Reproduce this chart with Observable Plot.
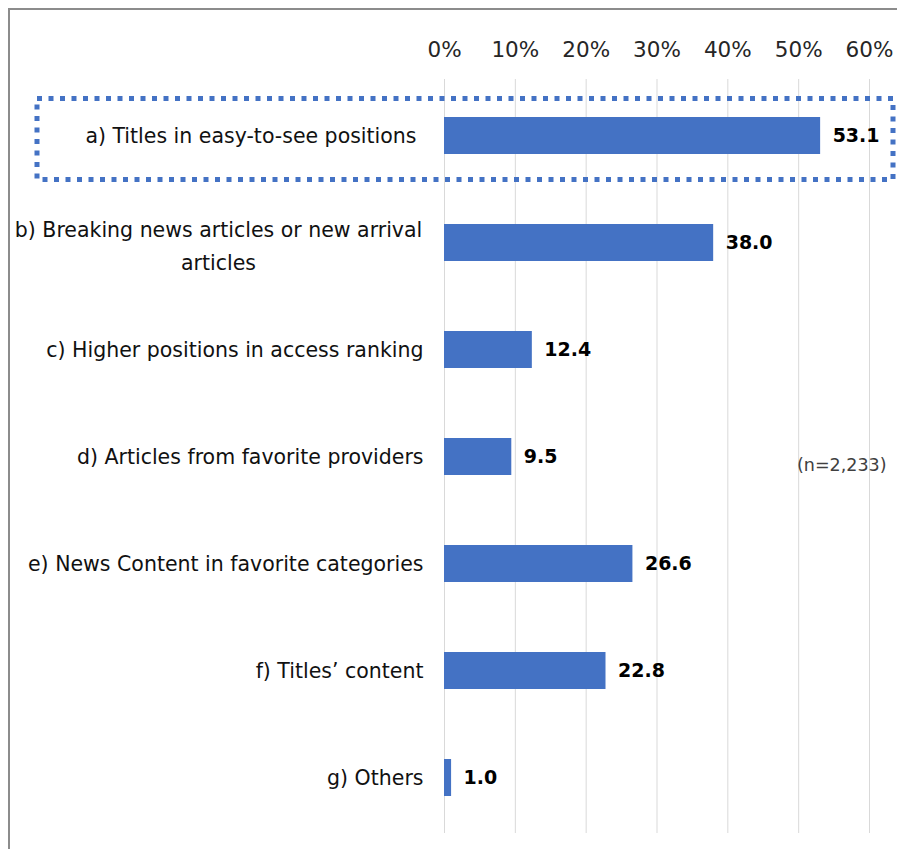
<!DOCTYPE html>
<html>
<head>
<meta charset="utf-8">
<script src="https://cdn.jsdelivr.net/npm/d3@7"></script>
<script src="https://cdn.jsdelivr.net/npm/@observablehq/plot@0.6"></script>
<style>
  html, body { margin: 0; padding: 0; background: #fff; }
  #wrap { position: relative; width: 897px; height: 849px; overflow: hidden; }
  #border { position: absolute; left: 8px; top: 8px; width: 1000px; height: 1000px;
            border-left: 2px solid #8c8c8c; border-top: 2px solid #8c8c8c; }
  #chart { position: absolute; left: 0; top: 0; }
</style>
</head>
<body>
<div id="wrap"><div id="border"></div><div id="chart"></div></div>
<script>
const categories = [
  "a) Titles in easy-to-see positions",
  "b) Breaking news articles or new arrival\narticles",
  "c) Higher positions in access ranking",
  "d) Articles from favorite providers",
  "e) News Content in favorite categories",
  "f) Titles\u2019 content",
  "g) Others"
];
const values = [53.1, 38.0, 12.4, 9.5, 26.6, 22.8, 1.0];
const xTicks = [0, 10, 20, 30, 40, 50, 60];
const sampleNote = "(n=2,233)";

const data = categories.map((c, i) => ({ cat: c, v: values[i] }));
const font = "DejaVu Sans, Verdana, sans-serif";
const boxed = categories.slice(0, 1);
const wrapped = categories.filter(c => c.includes("\n"));
const single = categories.slice(1).filter(c => !c.includes("\n"));

const chart = Plot.plot({
  width: 897,
  height: 849,
  marginLeft: 444,
  marginRight: 28,
  marginTop: 79,
  marginBottom: 16,
  style: { fontFamily: font, background: "transparent", overflow: "visible" },
  x: { domain: [0, 60], axis: null },
  y: { domain: categories, axis: null, paddingInner: 0.656, paddingOuter: 0.334 },
  marks: [
    Plot.gridX(xTicks, { stroke: "#d9d9d9", strokeOpacity: 1, strokeWidth: 1 }),
    Plot.axisX(xTicks, {
      anchor: "top", tickSize: 0, tickPadding: 23, label: null,
      tickFormat: d => d + "%", fontSize: 21.5, fill: "#262626"
    }),
    Plot.barX(data, { x: "v", y: "cat", fill: "#4472C4" }),
    Plot.text(data, {
      x: "v", y: "cat", text: d => d.v.toFixed(1), dx: 12,
      textAnchor: "start", fontWeight: "bold", fontSize: 19, fill: "#000"
    }),
    Plot.text(boxed, {
      y: d => d, text: d => d, frameAnchor: "left", dx: -28,
      textAnchor: "end", fontSize: 20.5, fill: "#111"
    }),
    Plot.text(single, {
      y: d => d, text: d => d, frameAnchor: "left", dx: -21,
      textAnchor: "end", fontSize: 20.5, fill: "#111"
    }),
    Plot.text(wrapped, {
      y: d => d, text: d => d, frameAnchor: "left", dx: -226,
      textAnchor: "middle", fontSize: 20.5, lineHeight: 1.6, fill: "#111"
    }),
    Plot.text([sampleNote], {
      text: d => d, frameAnchor: "right", dx: 17, dy: 9,
      textAnchor: "end", fontSize: 17.5, fill: "#404040"
    })
  ]
});

// dotted highlight box around the first row
d3.select(chart).append("rect")
  .attr("x", 37).attr("y", 98.5)
  .attr("width", 856).attr("height", 81)
  .attr("fill", "none")
  .attr("stroke", "#4472C4")
  .attr("stroke-width", 5)
  .attr("stroke-dasharray", "5,6.5");

document.getElementById("chart").appendChild(chart);
</script>
</body>
</html>
